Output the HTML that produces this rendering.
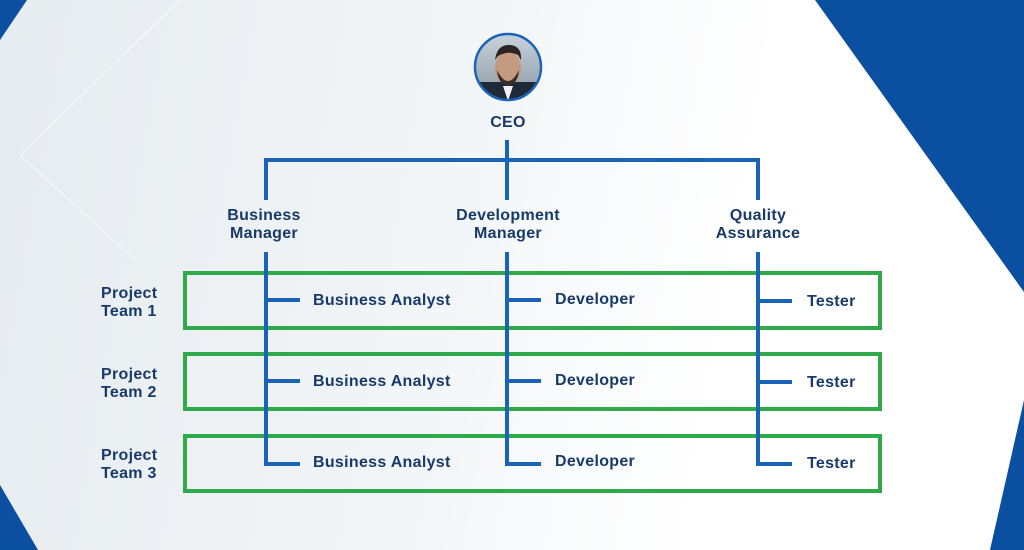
<!DOCTYPE html>
<html><head><meta charset="utf-8"><style>
html,body{margin:0;padding:0}
body{width:1024px;height:550px;position:relative;overflow:hidden;background:linear-gradient(100deg,#e6ebef 0%,#f3f6f8 45%,#ffffff 70%);font-family:"Liberation Sans",sans-serif}
.t{position:absolute;color:#173a6a;font-weight:bold;font-size:16px;line-height:18px;letter-spacing:0.3px;text-align:center;white-space:nowrap}
.l{text-align:left}
.g{position:absolute;border:4px solid #2eaa4a;left:183px;width:691px;height:51px}
.b{position:absolute;background:#1b63b8}
</style></head><body>
<svg width="1024" height="550" style="position:absolute;left:0;top:0">
<polygon points="815,0 1024,0 1024,292" fill="#0b4fa0"/>
<polygon points="1024,400 1024,550 990,550" fill="#0b4fa0"/>
<polygon points="0,0 27,0 0,40" fill="#0b4fa0"/>
<polygon points="0,485 38,550 0,550" fill="#0b4fa0"/>
<polyline points="180,0 20,155 135,260" stroke="#ffffff" stroke-width="1.5" fill="none" opacity="0.5"/>
<defs><clipPath id="c"><circle cx="508" cy="67" r="32"/></clipPath>
<linearGradient id="p" x1="0" y1="0" x2="0" y2="1"><stop offset="0" stop-color="#c9d3db"/><stop offset="1" stop-color="#8a98a4"/></linearGradient></defs>
<g clip-path="url(#c)">
<rect x="474" y="33" width="68" height="68" fill="url(#p)"/>
<rect x="474" y="82" width="68" height="20" fill="#1e2a38"/>
<ellipse cx="508" cy="68" rx="13" ry="17" fill="#c49a80"/>
<path d="M495 60 Q497 44 510 45 Q522 46 521 60 L518 55 Q508 50 498 56Z" fill="#2b2420"/>
<path d="M497 70 Q508 92 519 70 Q518 84 508 86 Q498 84 497 70Z" fill="#3a2e28"/>
<polygon points="503,86 513,86 508,101" fill="#f2f2f2"/>
</g>
<circle cx="508" cy="67" r="33" fill="none" stroke="#1b63b8" stroke-width="2.5"/>
</svg>
<div class="t" style="left:483px;top:114px;width:50px">CEO</div>
<div class="b" style="left:505px;top:140px;width:4px;height:60px"></div>
<div class="b" style="left:264px;top:158px;width:496px;height:4px"></div>
<div class="b" style="left:264px;top:158px;width:4px;height:42px"></div>
<div class="b" style="left:756px;top:158px;width:4px;height:42px"></div>
<div class="t" style="left:204px;top:207px;width:120px">Business<br>Manager</div>
<div class="t" style="left:438px;top:207px;width:140px">Development<br>Manager</div>
<div class="t" style="left:698px;top:207px;width:120px">Quality<br>Assurance</div>
<div class="g" style="top:271px"></div>
<div class="g" style="top:352px"></div>
<div class="g" style="top:434px"></div>
<div class="b" style="left:264px;top:252px;width:4px;height:214px"></div>
<div class="b" style="left:505px;top:252px;width:4px;height:214px"></div>
<div class="b" style="left:756px;top:252px;width:4px;height:214px"></div>
<div class="b" style="left:264px;top:298px;width:36px;height:4px"></div>
<div class="b" style="left:264px;top:379px;width:36px;height:4px"></div>
<div class="b" style="left:264px;top:462px;width:36px;height:4px"></div>
<div class="b" style="left:505px;top:298px;width:36px;height:4px"></div>
<div class="b" style="left:505px;top:379px;width:36px;height:4px"></div>
<div class="b" style="left:505px;top:462px;width:36px;height:4px"></div>
<div class="b" style="left:756px;top:299px;width:36px;height:4px"></div>
<div class="b" style="left:756px;top:380px;width:36px;height:4px"></div>
<div class="b" style="left:756px;top:462px;width:36px;height:4px"></div>
<div class="t l" style="left:101px;top:285px">Project<br>Team 1</div>
<div class="t l" style="left:101px;top:366px">Project<br>Team 2</div>
<div class="t l" style="left:101px;top:447px">Project<br>Team 3</div>
<div class="t l" style="left:313px;top:292px">Business Analyst</div>
<div class="t l" style="left:313px;top:373px">Business Analyst</div>
<div class="t l" style="left:313px;top:454px">Business Analyst</div>
<div class="t l" style="left:555px;top:291px">Developer</div>
<div class="t l" style="left:555px;top:372px">Developer</div>
<div class="t l" style="left:555px;top:453px">Developer</div>
<div class="t l" style="left:807px;top:293px">Tester</div>
<div class="t l" style="left:807px;top:374px">Tester</div>
<div class="t l" style="left:807px;top:455px">Tester</div>
</body></html>
